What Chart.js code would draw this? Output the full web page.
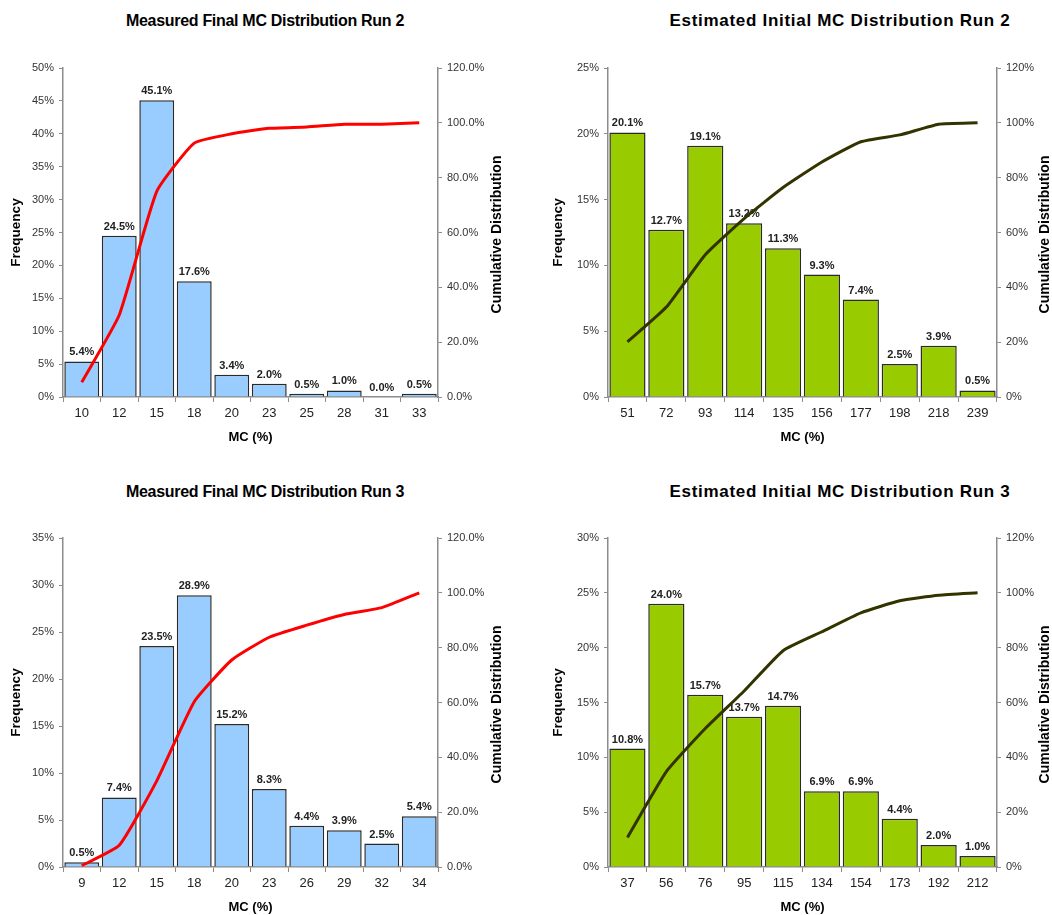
<!DOCTYPE html>
<html>
<head>
<meta charset="utf-8">
<script src="https://cdn.jsdelivr.net/npm/chart.js@4.4.1/dist/chart.umd.min.js"></script>
<style>
  body { margin: 0; background: #fff; width: 1052px; height: 915px; overflow: hidden; position: relative; font-family: "Liberation Sans", Arial, sans-serif; }
  canvas { position: absolute; }
  .ttl { position: absolute; width: 460px; text-align: center; font-weight: bold; color: #000; line-height: 20px; white-space: nowrap; }
  .ttl.l { font-size: 16px; letter-spacing: -0.3px; }
  .ttl.r { font-size: 17px; letter-spacing: 0.7px; }
</style>
</head>
<body>
<div class="ttl l" style="left:35px; top:11px;">Measured Final MC Distribution Run 2</div>
<div class="ttl r" style="left:610px; top:11px;">Estimated Initial MC Distribution Run 2</div>
<div class="ttl l" style="left:35px; top:482px;">Measured Final MC Distribution Run 3</div>
<div class="ttl r" style="left:610px; top:482px;">Estimated Initial MC Distribution Run 3</div>

<canvas id="c1" width="526" height="447" style="left:0; top:0;"></canvas>
<canvas id="c2" width="526" height="447" style="left:526px; top:0;"></canvas>
<canvas id="c3" width="526" height="447" style="left:0; top:470px;"></canvas>
<canvas id="c4" width="526" height="447" style="left:526px; top:470px;"></canvas>

<script>
// ===== Du lieu =====
const run2FinalLabels = ["10", "12", "15", "18", "20", "23", "25", "28", "31", "33"];
const run2FinalFreq = [5.4, 24.5, 45.1, 17.6, 3.4, 2.0, 0.5, 1.0, 0.0, 0.5];
const run2FinalCum = [5.4, 29.9, 75.0, 92.6, 96.0, 98.0, 98.5, 99.5, 99.5, 100.0];

const run2InitLabels = ["51", "72", "93", "114", "135", "156", "177", "198", "218", "239"];
const run2InitFreq = [20.1, 12.7, 19.1, 13.2, 11.3, 9.3, 7.4, 2.5, 3.9, 0.5];
const run2InitCum = [20.1, 32.8, 51.9, 65.1, 76.4, 85.7, 93.1, 95.6, 99.5, 100.0];

const run3FinalLabels = ["9", "12", "15", "18", "20", "23", "26", "29", "32", "34"];
const run3FinalFreq = [0.5, 7.4, 23.5, 28.9, 15.2, 8.3, 4.4, 3.9, 2.5, 5.4];
const run3FinalCum = [0.5, 7.9, 31.4, 60.3, 75.5, 83.8, 88.2, 92.1, 94.6, 100.0];

const run3InitLabels = ["37", "56", "76", "95", "115", "134", "154", "173", "192", "212"];
const run3InitFreq = [10.8, 24.0, 15.7, 13.7, 14.7, 6.9, 6.9, 4.4, 2.0, 1.0];
const run3InitCum = [10.8, 34.8, 50.5, 64.2, 78.9, 85.8, 92.7, 97.1, 99.1, 100.0];

const FONT = '"Liberation Sans", Arial, sans-serif';
const AXIS = "#8c8c8c";

// nhan % tren cot (ve truoc duong tich luy)
const barLabels = {
    id: "barLabels",
    afterDatasetDraw(chart, args) {
        if (args.meta.type !== "bar") return;
        const ctx = chart.ctx;
        ctx.save();
        ctx.font = "bold 11px " + FONT;
        ctx.fillStyle = "#222";
        ctx.textAlign = "center";
        ctx.textBaseline = "alphabetic";
        args.meta.data.forEach((el, i) => {
            const v = chart.data.datasets[args.index].data[i];
            ctx.fillText(v.toFixed(1) + "%", el.x, el.y - 6);
        });
        ctx.restore();
    }
};

// tieu de truc phai, doc tu duoi len
const rightTitle = {
    id: "rightTitle",
    afterDraw(chart, args, opts) {
        const s = chart.scales.y1;
        const ctx = chart.ctx;
        ctx.save();
        ctx.font = "bold 14px " + FONT;
        ctx.fillStyle = "#000";
        ctx.textAlign = "center";
        ctx.textBaseline = "middle";
        ctx.translate(s.left + opts.dx, (chart.chartArea.top + chart.chartArea.bottom) / 2 + 2);
        ctx.rotate(-Math.PI / 2);
        ctx.fillText("Cumulative Distribution", 0, 0);
        ctx.restore();
    }
};

function veBieuDo(id, labels, freq, cum, cfg) {
    const ctx = document.getElementById(id).getContext("2d");
    return new Chart(ctx, {
        type: "bar",
        data: {
            labels: labels,
            datasets: [{
                type: "line",
                data: cum,
                yAxisID: "y1",
                borderColor: cfg.lineColor,
                borderWidth: 3,
                pointRadius: 0,
                tension: 0.15,
                fill: false,
                order: 0
            }, {
                type: "bar",
                data: freq,
                yAxisID: "y",
                backgroundColor: cfg.barColor,
                borderColor: "#2a2a2a",
                borderWidth: 1.5,
                barPercentage: 0.93,
                categoryPercentage: 1,
                order: 1
            }]
        },
        options: {
            responsive: false,
            animation: false,
            layout: { padding: { top: 68, left: 0, right: 0, bottom: 0 } },
            plugins: {
                legend: { display: false },
                tooltip: { enabled: false },
                rightTitle: { dx: cfg.rightTitleDx }
            },
            scales: {
                x: {
                    offset: true,
                    grid: { offset: true, drawOnChartArea: false, tickLength: 5, color: AXIS },
                    border: { color: AXIS, width: 1.5 },
                    ticks: { font: { family: FONT, size: 13 }, color: "#222", padding: 4 },
                    title: { display: true, text: "MC (%)", color: "#000",
                             font: { family: FONT, size: 13, weight: "bold" }, padding: { top: 0, bottom: 2 } },
                    afterFit: s => { s.height = 50; }
                },
                y: {
                    position: "left",
                    min: 0,
                    max: cfg.yMax,
                    ticks: { stepSize: 5, callback: v => v + "%", font: { family: FONT, size: 11 }, color: "#333", padding: 5 },
                    grid: { drawOnChartArea: false, tickLength: 4, color: AXIS },
                    border: { color: AXIS, width: 1.5 },
                    title: { display: true, text: "Frequency", color: "#000",
                             font: { family: FONT, size: 13.5, weight: "bold" }, padding: { top: cfg.freqPad, bottom: 0 } },
                    afterFit: s => { s.width = cfg.leftW; }
                },
                y1: {
                    position: "right",
                    min: 0,
                    max: 120,
                    ticks: { stepSize: 20, callback: v => v.toFixed(cfg.cumDec) + "%", font: { family: FONT, size: 11 }, color: "#333", padding: 5 },
                    grid: { drawOnChartArea: false, tickLength: 4, color: AXIS },
                    border: { color: AXIS, width: 1.5 },
                    afterFit: s => { s.width = cfg.rightW; }
                }
            }
        },
        plugins: [barLabels, rightTitle]
    });
}

const xanhDuong = { barColor: "#99ccff", lineColor: "#ff0000", leftW: 63, rightW: 88, freqPad: 8, rightTitleDx: 59, cumDec: 1 };
const xanhLa = { barColor: "#99cc00", lineColor: "#333300", leftW: 82, rightW: 55, freqPad: 24, rightTitleDx: 48, cumDec: 0 };

veBieuDo("c1", run2FinalLabels, run2FinalFreq, run2FinalCum, Object.assign({ yMax: 50 }, xanhDuong));
veBieuDo("c2", run2InitLabels, run2InitFreq, run2InitCum, Object.assign({ yMax: 25 }, xanhLa));
veBieuDo("c3", run3FinalLabels, run3FinalFreq, run3FinalCum, Object.assign({ yMax: 35 }, xanhDuong));
veBieuDo("c4", run3InitLabels, run3InitFreq, run3InitCum, Object.assign({ yMax: 30 }, xanhLa));
</script>
</body>
</html>
